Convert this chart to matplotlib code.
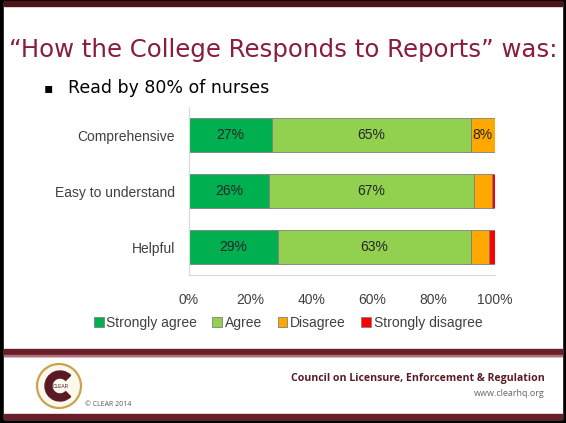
import matplotlib.pyplot as plt
from matplotlib.patches import Rectangle, Circle, Wedge

categories = ["Comprehensive", "Easy to understand", "Helpful"]
series = ["Strongly agree", "Agree", "Disagree", "Strongly disagree"]
strongly_agree = [27, 26, 29]
agree = [65, 67, 63]
disagree = [8, 6, 6]
strongly_disagree = [0, 1, 2]
colors = ["#00B050", "#92D050", "#FFA800", "#FF0000"]
ticks = [0, 20, 40, 60, 80, 100]

W, H = 566, 423
fig = plt.figure(figsize=(W / 100, H / 100), dpi=100)
fig.patch.set_facecolor("black")

# slide background, drawn in pixel coordinates
bg = fig.add_axes([0, 0, 1, 1], zorder=0)
bg.set_xlim(0, W)
bg.set_ylim(H, 0)
bg.axis("off")
bg.add_patch(Rectangle((4, 2), 558, 417, color="white"))
bg.add_patch(Rectangle((4, 1), 558, 5, color="#4E1219"))
bg.add_patch(Rectangle((4, 349), 558, 7, color="#6A1E29"))
bg.add_patch(Rectangle((4, 355), 558, 1.5, color="#B07078"))
bg.add_patch(Rectangle((4, 414), 558, 5, color="#6A1E29"))

title_color = "#8A1C3C"
bg.text(9, 50, "\u201cHow the College Responds to Reports\u201d was:", fontsize=17.6,
        color=title_color, va="center", ha="left", family="DejaVu Sans")
bg.text(44, 88, "\u25aa", fontsize=10, color="black", va="center", ha="left")
bg.text(68, 88, "Read by 80% of nurses", fontsize=12.5, color="black",
        va="center", ha="left", family="DejaVu Sans")

# footer logo
bg.add_patch(Circle((59, 386), 22, facecolor="#FBF8EE", edgecolor="#C9A44A", lw=1.6))
bg.add_patch(Wedge((60, 386), 15, 45, 315, width=7, color="#5A1A24"))
bg.text(61, 386, "CLEAR", fontsize=3.5, color="#5A1A24", ha="center", va="center",
        family="Liberation Sans")
bg.text(85, 405, "\u00a9 CLEAR 2014", fontsize=5, color="#555555", ha="left", va="center",
        family="Open Sans")
bg.text(545, 378, "Council on Licensure, Enforcement & Regulation", fontsize=7.6,
        color="#5A1A24", ha="right", va="center", weight="bold", family="Open Sans")
bg.text(545, 393, "www.clearhq.org", fontsize=6.5, color="#666666", ha="right",
        va="center", family="Open Sans")

# chart
ax = fig.add_axes([189 / W, 1 - 275 / H, 306 / W, 168 / H], zorder=1)
ax.patch.set_alpha(0)
y = list(range(len(categories)))
left = [0] * len(categories)
for name, vals, c in zip(series, [strongly_agree, agree, disagree, strongly_disagree], colors):
    bars = ax.barh(y, vals, left=left, height=0.59, color=c, edgecolor="#7F7F7F",
                   linewidth=0.6, label=name)
    for b, v, l in zip(bars, vals, left):
        if v >= 8:
            ax.text(l + v / 2, b.get_y() + b.get_height() / 2, f"{v}%", ha="center",
                    va="center", fontsize=10, color="#262626", family="Liberation Sans")
    left = [a + b for a, b in zip(left, vals)]

ax.set_xlim(0, 100)
ax.set_ylim(2.5, -0.5)
ax.set_yticks(y)
ax.set_yticklabels(categories, fontsize=10, color="#404040", family="Liberation Sans")
ax.set_xticks(ticks)
ax.set_xticklabels([f"{t}%" for t in ticks], fontsize=10, color="#404040",
                   family="Liberation Sans")
ax.tick_params(length=0, pad=10)
ax.tick_params(axis="x", pad=13)
for s in ["top", "right"]:
    ax.spines[s].set_visible(False)
for s in ["left", "bottom"]:
    ax.spines[s].set_color("#D9D9D9")

fig.legend(loc="center", bbox_to_anchor=(288 / W, 1 - 323 / H), ncol=4, frameon=False,
           handlelength=0.7, handleheight=0.7, handletextpad=0.2, columnspacing=1.1,
           prop={"family": "Liberation Sans", "size": 10}, labelcolor="#404040")

fig.savefig("out.png", dpi=100, facecolor=fig.get_facecolor())
